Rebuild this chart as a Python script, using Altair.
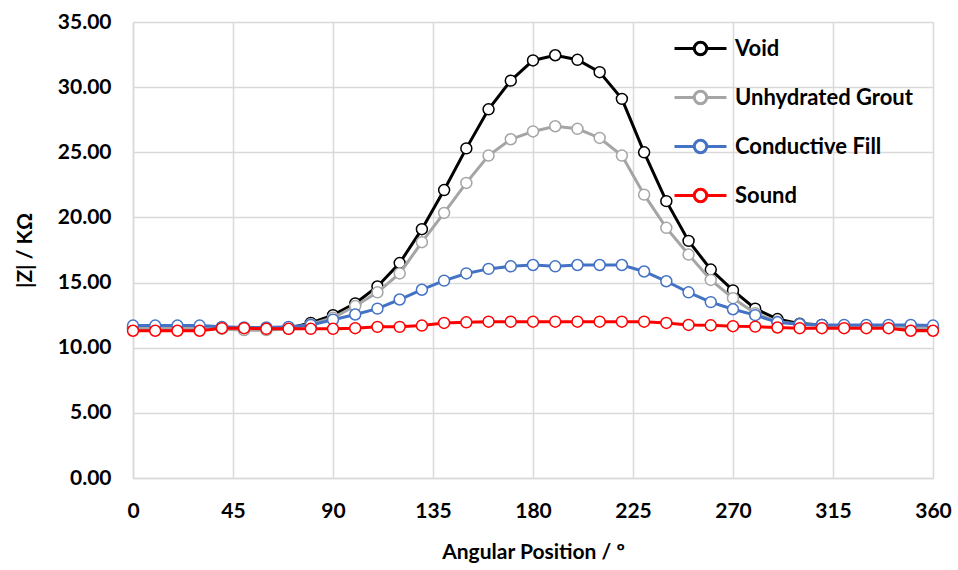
import altair as alt
import pandas as pd

angles = list(range(0, 361, 10))

void = [11.5, 11.5, 11.5, 11.5, 11.5, 11.4, 11.45, 11.5, 11.9, 12.5,
        13.4, 14.7, 16.5, 19.1, 22.1, 25.3, 28.3, 30.5, 32.05, 32.45,
        32.1, 31.15, 29.1, 25.0, 21.25, 18.2, 16.0, 14.4, 13.0, 12.2,
        11.85, 11.75, 11.6, 11.6, 11.6, 11.5, 11.5]
grout = [11.5, 11.5, 11.5, 11.5, 11.45, 11.35, 11.35, 11.45, 11.8, 12.3,
         13.2, 14.25, 15.7, 18.1, 20.35, 22.65, 24.75, 26.0, 26.6, 27.0,
         26.8, 26.1, 24.75, 21.75, 19.2, 17.15, 15.2, 13.8, 12.65, 12.0,
         11.8, 11.7, 11.6, 11.6, 11.6, 11.55, 11.55]
fill = [11.7, 11.7, 11.7, 11.7, 11.6, 11.55, 11.55, 11.6, 11.75, 12.15,
        12.55, 13.0, 13.7, 14.45, 15.15, 15.7, 16.05, 16.25, 16.35, 16.25,
        16.35, 16.35, 16.35, 15.85, 15.1, 14.25, 13.5, 12.95, 12.5, 11.95,
        11.8, 11.75, 11.75, 11.75, 11.75, 11.75, 11.7]
sound = [11.3, 11.3, 11.3, 11.3, 11.5, 11.5, 11.45, 11.45, 11.45, 11.45,
         11.5, 11.6, 11.6, 11.7, 11.9, 11.95, 12.0, 12.0, 12.0, 12.0,
         12.0, 12.0, 12.0, 12.0, 11.9, 11.75, 11.72, 11.65, 11.62, 11.55,
         11.5, 11.5, 11.5, 11.5, 11.5, 11.3, 11.3]

series_names = ["Void", "Unhydrated Grout", "Conductive Fill", "Sound"]
series_colors = ["#000000", "#a5a5a5", "#4472c4", "#ff0000"]
series_values = [void, grout, fill, sound]

x_ticks = [0, 45, 90, 135, 180, 225, 270, 315, 360]
y_ticks = [0, 5, 10, 15, 20, 25, 30, 35]

rows = []
for name, vals in zip(series_names, series_values):
    for a, v in zip(angles, vals):
        rows.append({"angle": a, "z": v, "series": name})
df = pd.DataFrame(rows)

FONT = "Lato"

xenc = alt.X("angle:Q", scale=alt.Scale(domain=[0, 360], nice=False),
             axis=alt.Axis(values=x_ticks, title="Angular Position / º",
                           labelPadding=22, titlePadding=20, ticks=False,
                           labelFlush=False,
                           domain=True, domainColor="#d9d9d9", domainWidth=1.5))
yenc = alt.Y("z:Q", scale=alt.Scale(domain=[0, 35], nice=False),
             axis=alt.Axis(values=y_ticks, format=".2f", title="|Z| / KΩ",
                           labelPadding=22, titlePadding=22, ticks=False,
                           labelFlush=False,
                           domain=True, domainColor="#d9d9d9", domainWidth=1.5))

custom_symbol = ("M -1 0 L -0.24 0 M 0.24 0 L 1 0 "
                 "M 0.24 0 A 0.24 0.24 0 1 1 -0.24 0 A 0.24 0.24 0 1 1 0.24 0 Z")

color_scale = alt.Scale(domain=series_names, range=series_colors)
legend = alt.Legend(title=None, orient="none", legendX=540, legendY=-1,
                    symbolType=custom_symbol, symbolSize=2700,
                    symbolStrokeWidth=3, symbolFillColor="white",
                    labelFontSize=22, labelFont=FONT, labelFontWeight="bold",
                    labelColor="#000000", labelOffset=7, rowPadding=9,
                    labelLimit=400, symbolOpacity=1)

layers = []
for i, name in enumerate(series_names):
    base = alt.Chart(df).transform_filter(alt.datum.series == name)
    ln = base.mark_line(strokeWidth=3).encode(
        x=xenc, y=yenc,
        color=alt.Color("series:N", scale=color_scale,
                        legend=legend if i == 0 else None))
    pt = base.mark_point(filled=False, fill="white", fillOpacity=1, opacity=1,
                         size=120, strokeWidth=1.5).encode(
        x=xenc, y=yenc,
        color=alt.Color("series:N", scale=color_scale, legend=None))
    layers += [ln, pt]

chart = alt.layer(*layers).properties(
    width=800, height=456,
    autosize=alt.AutoSizeParams(type="none"),
    padding={"left": 133, "top": 22, "right": 25, "bottom": 92},
).configure_view(stroke=None).configure_axis(
    grid=True, gridColor="#d9d9d9", gridWidth=1.5,
    labelFont=FONT, labelFontSize=21, labelFontWeight="bold", labelColor="#000000",
    titleFont=FONT, titleFontSize=21, titleFontWeight="bold", titleColor="#000000",
)

chart.save("out.html", embed_options={"renderer": "svg", "actions": False})
